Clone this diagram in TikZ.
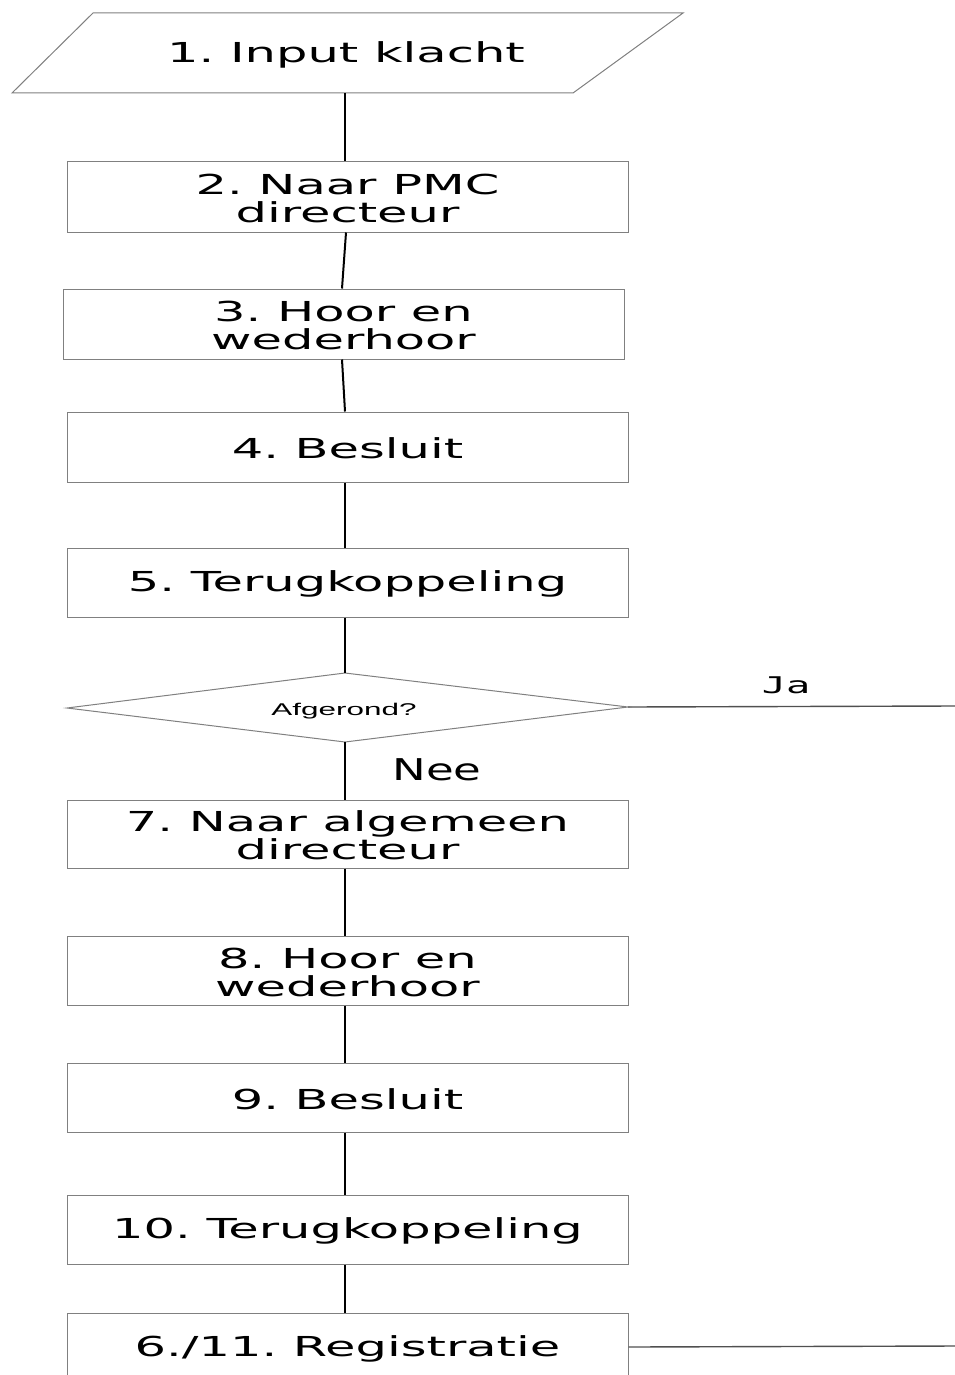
\documentclass[tikz,border=0pt]{standalone}
\usepackage{fontspec}
\setmainfont{DejaVu Sans}
\newfontfamily\monofnt{DejaVu Sans Mono}
\newfontfamily\arialfnt{Liberation Sans}
\definecolor{boxgray}{HTML}{808080}
\definecolor{linegray}{HTML}{505050}
\frenchspacing
\begin{document}
\begin{tikzpicture}[x=1pt,y=-1pt,
  box/.style={draw=boxgray, line width=1pt, minimum width=561pt, minimum height=70pt, inner sep=0pt, fill=white},
  txt/.style={font=\fontsize{27.5}{28}\selectfont, xscale=1.8, align=center, inner sep=0pt, yshift=-1.5pt},
  conn/.style={line width=2pt, black},
  side/.style={line width=1.4pt, linegray},
]
\fill[white] (0,0) rectangle (955,1375);
\useasboundingbox (0,0) rectangle (955,1375);

% 1. parallelogram
\coordinate (pTL) at (93,13);
\coordinate (pTR) at (683,13);
\coordinate (pBR) at (573,93);
\coordinate (pBL) at (12,93);
\coordinate (pbot) at (345,93);
\draw[boxgray, line width=1pt] (pTL) -- (pTR) -- (pBR) -- (pBL) -- cycle;
\node[txt] (t1) at (346,53) {1. Input klacht};

% boxes
\node[box] (b2) at (347.5,197) {};
\node[txt] (t2) at (b2) {2. Naar PMC\\directeur};
\node[box] (b3) at (343.5,324) {};
\node[txt] (t3) at (b3) {3. Hoor en\\wederhoor};
\node[box] (b4) at (347.5,447) {};
\node[txt] (t4) at (b4) {4. Besluit};
\node[box, minimum height=69pt] (b5) at (347.5,582.5) {};
\node[txt] (t5) at (b5) {5. Terugkoppeling};

% decision
\coordinate (dL) at (67,708);
\coordinate (dT) at (345,673);
\coordinate (dR) at (628,707);
\coordinate (dB) at (345,742);
\draw[boxgray, line width=1pt] (dL) -- (dT) -- (dR) -- (dB) -- cycle;
\node[font=\arialfnt\fontsize{17}{18}\selectfont, xscale=1.85, inner sep=0pt] (tq) at (344,711) {Afgerond?};

\node[box, minimum height=68pt] (b7) at (347.5,834) {};
\node[txt] (t7) at (b7) {7. Naar algemeen\\directeur};
\node[box, minimum height=69pt] (b8) at (347.5,970.5) {};
\node[txt] (t8) at (b8) {8. Hoor en\\wederhoor};
\node[box, minimum height=69pt] (b9) at (347.5,1097.5) {};
\node[txt] (t9) at (b9) {9. Besluit};
\node[box, minimum height=69pt] (b10) at (347.5,1229.5) {};
\node[txt] (t10) at (b10) {10. Terugkoppeling};
\node[box, minimum height=68pt] (b11) at (347.5,1347) {};
\node[txt] (t11) at (b11) {6./11. Registratie};

% connectors
\draw[conn] (pbot) -- ([xshift=-2.5pt]b2.north);
\draw[conn] ([xshift=-1.5pt]b2.south) -- ([xshift=-1.5pt]b3.north);
\draw[conn] ([xshift=-1.5pt]b3.south) -- ([xshift=-2.5pt]b4.north);
\draw[conn] ([xshift=-2.5pt]b4.south) -- ([xshift=-2.5pt]b5.north);
\draw[conn] ([xshift=-2.5pt]b5.south) -- (dT);
\draw[conn] (dB) -- ([xshift=-2.5pt]b7.north);
\draw[conn] ([xshift=-2.5pt]b7.south) -- ([xshift=-2.5pt]b8.north);
\draw[conn] ([xshift=-2.5pt]b8.south) -- ([xshift=-2.5pt]b9.north);
\draw[conn] ([xshift=-2.5pt]b9.south) -- ([xshift=-2.5pt]b10.north);
\draw[conn] ([xshift=-2.5pt]b10.south) -- ([xshift=-2.5pt]b11.north);

% side exits
\coordinate (jaEnd) at (955,706);
\coordinate (regEnd) at (955,1346);
\draw[side] (dR) -- (jaEnd);
\draw[side] (b11.east) -- (regEnd);

% branch labels
\node[font=\monofnt\fontsize{23}{24}\selectfont, xscale=1.75, inner sep=0pt] (lja) at (786,685) {Ja};
\node[font=\fontsize{30}{31}\selectfont, xscale=1.5, inner sep=0pt] (lnee) at (437,770) {Nee};
\end{tikzpicture}
\end{document}
